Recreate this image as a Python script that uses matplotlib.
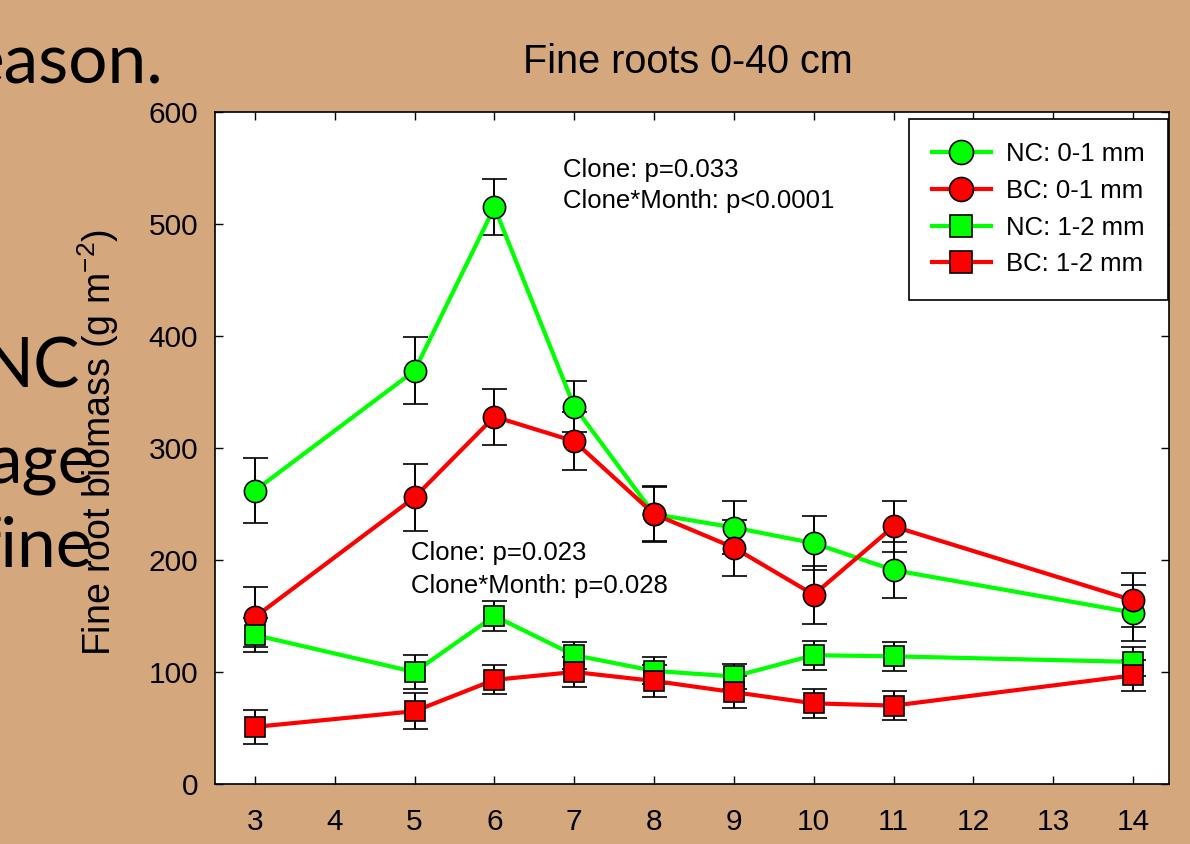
import matplotlib
matplotlib.use("Agg")
import matplotlib.pyplot as plt

plt.rcParams['font.family'] = ['Liberation Sans', 'DejaVu Sans']

# months sampled
months = [3, 5, 6, 7, 8, 9, 10, 11, 14]

# fine root biomass (g m-2) and standard errors
nc_01 = [262, 369, 515, 337, 241, 229, 215, 191, 153]
nc_01_se = [29, 30, 25, 23, 24, 24, 24, 25, 25]
bc_01 = [149, 256, 328, 306, 241, 211, 169, 230, 164]
bc_01_se = [27, 30, 25, 26, 25, 25, 26, 23, 24]
nc_12 = [133, 100, 150, 115, 101, 96, 115, 114, 109]
nc_12_se = [15, 15, 13, 12, 12, 11, 13, 13, 13]
bc_12 = [51, 65, 93, 100, 92, 82, 72, 70, 97]
bc_12_se = [15, 16, 13, 13, 14, 14, 13, 13, 14]

series = [
    ("NC: 0-1 mm", nc_01, nc_01_se, "#00ff00", "o"),
    ("BC: 0-1 mm", bc_01, bc_01_se, "#ff0000", "o"),
    ("NC: 1-2 mm", nc_12, nc_12_se, "#00ff00", "s"),
    ("BC: 1-2 mm", bc_12, bc_12_se, "#ff0000", "s"),
]

xticks = list(range(3, 15))
yticks = [0, 100, 200, 300, 400, 500, 600]

bg = "#d5a77d"
fig = plt.figure(figsize=(11.9, 8.44), dpi=100, facecolor=bg)

# slide text sitting behind the chart
slide_font = ['Lato', 'DejaVu Sans']
for txt, x, y in [("eason.", 163, 83), ("NC", 80, 388),
                  ("age", 95, 483), ("fine", 93, 567)]:
    fig.text(x / 1190, 1 - y / 844, txt, fontsize=50, ha="right",
             va="baseline", family=slide_font, zorder=0)

ax = fig.add_axes([215 / 1190, 1 - 784 / 844, 954 / 1190, 672 / 844])
ax.set_facecolor("white")

for label, y, se, col, mk in series:
    ax.errorbar(months, y, yerr=se, color=col, lw=3, marker=mk,
                ms=16 if mk == "o" else 15, mfc=col, mec="black", mew=1.2,
                ecolor="black", elinewidth=1.4, capsize=9, capthick=1.4,
                label=label)

ax.set_xlim(2.5, 14.45)
ax.set_ylim(0, 600)
ax.set_xticks(xticks)
ax.set_yticks(yticks)
ax.tick_params(direction="in", length=6, width=1, top=True, right=True,
               labelsize=21.5)
ax.tick_params(axis="x", pad=17)
ax.tick_params(axis="y", pad=12)
for s in ax.spines.values():
    s.set_linewidth(1.2)

ax.text(6.86, 542, "Clone: p=0.033", fontsize=18.5, va="baseline")
ax.text(6.86, 514, "Clone*Month: p<0.0001", fontsize=18.5, va="baseline")
ax.text(4.96, 200, "Clone: p=0.023", fontsize=18.5, va="baseline")
ax.text(4.96, 170.5, "Clone*Month: p=0.028", fontsize=18.5, va="baseline")

handles, labels = ax.get_legend_handles_labels()
handles = [h[0] for h in handles]
leg = ax.legend(handles, labels, loc="upper right", bbox_to_anchor=(0.999, 0.99),
                borderaxespad=0, fontsize=18.5, handlelength=2.3,
                handletextpad=0.6, labelspacing=0.5, borderpad=0.9,
                markerscale=1.08, fancybox=False, framealpha=1,
                edgecolor="black")
leg.get_frame().set_linewidth(1.2)

fig.text(688 / 1190, 1 - 73 / 844, "Fine roots 0-40 cm", fontsize=28.5,
         ha="center", va="baseline")
fig.text(98 / 1190, 1 - 442 / 844, "Fine root biomass (g m$\\mathregular{^{-2}}$)",
         fontsize=27, rotation=90, ha="center", va="center")

fig.savefig("out.png", dpi=100, facecolor=bg)
